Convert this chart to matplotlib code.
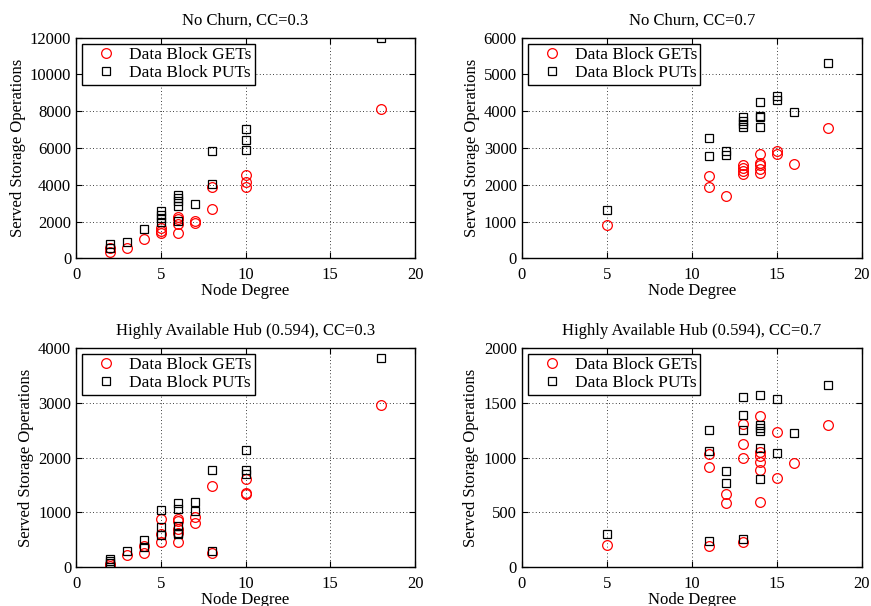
import matplotlib
matplotlib.use("Agg")
import matplotlib.pyplot as plt

plt.rcParams['font.family'] = ['Liberation Serif', 'DejaVu Serif']
plt.rcParams['mathtext.fontset'] = 'stix'

# --- No Churn, CC=0.3 ---
nc03_get_deg = [2, 2, 3, 4, 5, 5, 5, 6, 6, 6, 6, 7, 7, 8, 8, 10, 10, 10, 18]
nc03_get_val = [360, 550, 580, 1050, 1620, 1490, 1360, 2270, 2130, 1840, 1400,
                2050, 1945, 3890, 2690, 4545, 4130, 3855, 8100]
nc03_put_deg = [2, 2, 3, 4, 5, 5, 5, 5, 6, 6, 6, 6, 6, 7, 8, 8, 10, 10, 10, 18]
nc03_put_val = [780, 545, 890, 1580, 2545, 2360, 2180, 2000, 3450, 3270, 3090,
                2850, 2050, 2960, 5835, 4020, 7050, 6420, 5870, 12000]

# --- No Churn, CC=0.7 ---
nc07_get_deg = [5, 11, 11, 12, 13, 13, 13, 13, 14, 14, 14, 14, 14, 15, 15, 16, 18]
nc07_get_val = [909, 2245, 1936, 1682, 2545, 2455, 2382, 2290, 2845, 2600, 2545,
                2436, 2318, 2909, 2845, 2564, 3545]
nc07_put_deg = [5, 11, 11, 12, 12, 13, 13, 13, 13, 14, 14, 14, 14, 15, 15, 16, 18]
nc07_put_val = [1309, 3273, 2790, 2918, 2800, 3827, 3736, 3645, 3555, 4245, 3873,
                3845, 3555, 4400, 4300, 3982, 5300]

# --- Highly Available Hub (0.594), CC=0.3 ---
hh03_get_deg = [2, 2, 3, 4, 4, 5, 5, 5, 6, 6, 6, 6, 6, 7, 7, 8, 8, 10, 10, 10, 18]
hh03_get_val = [20, 60, 218, 267, 382, 460, 606, 885, 885, 848, 690, 618, 455,
                921, 806, 1473, 255, 1600, 1345, 1333, 2950]
hh03_put_deg = [2, 2, 2, 3, 4, 4, 5, 5, 5, 6, 6, 6, 6, 6, 7, 7, 8, 8, 10, 10, 10, 18]
hh03_put_val = [145, 110, 70, 297, 503, 370, 1048, 733, 594, 1170, 1060, 745, 624,
                600, 1194, 1030, 1764, 291, 2145, 1770, 1697, 3811]

# --- Highly Available Hub (0.594), CC=0.7 ---
hh07_get_deg = [5, 11, 11, 11, 12, 12, 13, 13, 13, 13, 14, 14, 14, 14, 14, 14,
                15, 15, 16, 18]
hh07_get_val = [203, 1030, 909, 194, 667, 582, 1309, 1124, 1000, 230, 1376, 1051,
                1015, 960, 885, 594, 1233, 815, 951, 1294]
hh07_put_deg = [5, 11, 11, 11, 12, 12, 13, 13, 13, 13, 14, 14, 14, 14, 14, 14,
                15, 15, 16, 18]
hh07_put_val = [303, 1251, 1060, 242, 879, 764, 1548, 1391, 1248, 254, 1573, 1300,
                1273, 1242, 1088, 800, 1536, 1045, 1221, 1664]

panels = [
    ("No Churn, CC=0.3", nc03_get_deg, nc03_get_val, nc03_put_deg, nc03_put_val,
     12000, 2000),
    ("No Churn, CC=0.7", nc07_get_deg, nc07_get_val, nc07_put_deg, nc07_put_val,
     6000, 1000),
    ("Highly Available Hub (0.594), CC=0.3", hh03_get_deg, hh03_get_val,
     hh03_put_deg, hh03_put_val, 4000, 1000),
    ("Highly Available Hub (0.594), CC=0.7", hh07_get_deg, hh07_get_val,
     hh07_put_deg, hh07_put_val, 2000, 500),
]

W, H = 871, 606
fig = plt.figure(figsize=(W / 100, H / 100), dpi=100)

rects = [
    (76, 37.5, 415, 258.3),
    (521.7, 37.5, 861.7, 258.3),
    (76, 347.7, 415, 567.3),
    (521.7, 347.7, 861.7, 567.3),
]

for (title, gx, gy, px, py, ymax, ystep), (l, t, r, b) in zip(panels, rects):
    ax = fig.add_axes([l / W, 1 - b / H, (r - l) / W, (b - t) / H])
    ax.plot(gx, gy, linestyle='none', marker='o', markersize=7,
            markerfacecolor='none', markeredgecolor='red', markeredgewidth=0.9,
            label='Data Block GETs')
    ax.plot(px, py, linestyle='none', marker='s', markersize=5.5,
            markerfacecolor='none', markeredgecolor='black', markeredgewidth=0.9,
            label='Data Block PUTs')
    ax.set_xlim(0, 20)
    ax.set_ylim(0, ymax)
    ax.set_xticks(range(0, 21, 5))
    ax.set_yticks(range(0, ymax + 1, ystep))
    ax.grid(True, linestyle=(0, (1, 3)), color='black', linewidth=0.6)
    ax.tick_params(direction='in', top=True, right=True, labelsize=12,
                   length=4, width=0.8)
    ax.tick_params(axis='x', pad=6)
    for s in ax.spines.values():
        s.set_linewidth(1.0)
    ax.set_title(title, fontsize=12, pad=9)
    ax.set_xlabel('Node Degree', fontsize=12, labelpad=0)
    ax.set_ylabel('Served Storage Operations', fontsize=12, labelpad=3)
    leg = ax.legend(loc='upper left', fontsize=12.5, fancybox=False,
                    edgecolor='black', framealpha=1, borderpad=0.2,
                    handletextpad=0.15, labelspacing=0.1, handlelength=2.35,
                    borderaxespad=0.35)
    leg.get_frame().set_linewidth(1.0)

fig.savefig('out.png', dpi=100)
